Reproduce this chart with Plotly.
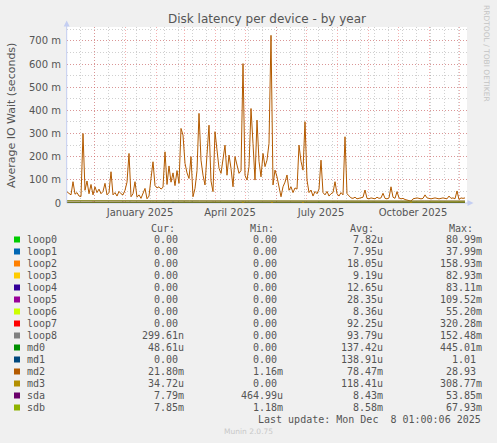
import pandas as pd
import plotly.graph_objects as go

# --- data (values in milli-seconds) ---
md2_ms = [48, 40, 35, 92, 38, 45, 30, 28, 300, 55, 95, 40, 80, 35, 70, 45, 60, 40, 50, 85,
          35, 45, 135, 35, 45, 30, 50, 40, 35, 55, 90, 214, 27, 40, 92, 25, 35, 20, 40, 63,
          18, 30, 106, 178, 75, 65, 70, 60, 68, 221, 80, 160, 90, 130, 75, 140, 85, 322, 293, 171,
          130, 106, 200, 27, 63, 140, 387, 185, 120, 78, 210, 336, 95, 49, 308, 214, 150, 128, 180, 250,
          120, 207, 150, 70, 200, 160, 128, 140, 602, 120, 99, 157, 408, 257, 99, 358, 180, 113, 214, 157,
          185, 257, 724, 78, 142, 113, 60, 27, 70, 90, 121, 55, 70, 45, 65, 60, 250, 180, 142, 351,
          99, 45, 56, 30, 50, 40, 60, 185, 45, 35, 50, 30, 40, 45, 92, 40, 30, 45, 35, 286,
          40, 30, 22, 20, 25, 18, 20, 22, 25, 56, 20, 18, 22, 20, 18, 25, 20, 22, 42, 20,
          18, 22, 70, 25, 20, 49, 22, 18, 20, 15, 12, 10, 8, 18, 20, 22, 20, 18, 20, 35,
          22, 20, 18, 20, 22, 20, 18, 20, 22, 20, 18, 30, 20, 22, 18, 52, 15, 22, 20, 22]

sda_ms = [9.1, 8.8, 8.6, 9.0, 8.5, 8.7, 8.9, 8.4, 8.6, 8.8, 8.5, 8.3, 8.7, 8.6, 8.4, 8.9, 8.5, 8.2, 8.6, 8.4,
          8.3, 8.1, 8.5, 8.2, 8.0, 8.3, 8.1, 7.9, 8.2, 8.0, 7.8, 8.1, 7.9, 8.0, 7.8, 8.1, 7.9, 7.8, 8.0, 7.8]
sdb_ms = [9.2, 9.0, 8.8, 9.1, 8.7, 8.9, 9.0, 8.6, 8.8, 8.9, 8.7, 8.5, 8.8, 8.7, 8.6, 9.0, 8.7, 8.4, 8.7, 8.6,
          8.5, 8.3, 8.6, 8.4, 8.2, 8.5, 8.3, 8.1, 8.4, 8.2, 8.0, 8.3, 8.1, 8.2, 8.0, 8.2, 8.0, 7.9, 8.1, 7.9]

# small blips of the near-zero devices
blip_device = ["loop7", "loop5", "loop1", "loop1", "md1", "loop0", "loop1", "loop5", "md3",
               "md3", "md3", "md0", "loop5", "loop1", "loop5", "md3", "loop1"]
blip_date = ["2024-11-30", "2024-12-30", "2025-01-06", "2025-01-29", "2025-02-18", "2025-03-01",
             "2025-03-09", "2025-03-30", "2025-04-29", "2025-05-28", "2025-06-28", "2025-07-14",
             "2025-07-29", "2025-09-06", "2025-09-29", "2025-10-14", "2025-11-12"]
blip_ms = [5, 5, 5, 5, 5, 5, 5, 5, 6, 5, 5, 5, 5, 5, 5, 6, 5]

devices = ["loop0", "loop1", "loop2", "loop3", "loop4", "loop5", "loop6", "loop7",
           "loop8", "md0", "md1", "md2", "md3", "sda", "sdb"]
colors = ["#00CC00", "#0066B3", "#FF8000", "#FFCC00", "#330099", "#990099", "#CCFF00", "#FF0000",
          "#808080", "#008F00", "#00487D", "#B35A00", "#B38F00", "#6B006B", "#8FB300"]
cur_vals = ["0.00", "0.00", "0.00", "0.00", "0.00", "0.00", "0.00", "0.00",
            "299.61n", "48.61u", "0.00", "21.80m", "34.72u", "7.79m", "7.85m"]
min_vals = ["0.00", "0.00", "0.00", "0.00", "0.00", "0.00", "0.00", "0.00",
            "0.00", "0.00", "0.00", "1.16m", "0.00", "464.99u", "1.18m"]
avg_vals = ["7.82u", "7.95u", "18.05u", "9.19u", "12.65u", "28.35u", "8.36u", "92.25u",
            "93.79u", "137.42u", "138.91u", "78.47m", "118.41u", "8.43m", "8.58m"]
max_vals = ["80.99m", "37.99m", "158.93m", "82.93m", "83.11m", "109.52m", "55.20m", "320.28m",
            "152.48m", "445.01m", "1.01", "28.93", "308.77m", "53.85m", "67.93m"]

y_tick_vals = [0, 100, 200, 300, 400, 500, 600, 700]
y_tick_text = ["0", "100 m", "200 m", "300 m", "400 m", "500 m", "600 m", "700 m"]
label_dates = ["2025-01-16", "2025-04-16", "2025-07-16", "2025-10-16"]
label_text = ["January 2025", "April 2025", "July 2025", "October 2025"]

START, END = "2024-11-04", "2025-12-07"
X_RANGE = ["2024-11-04", "2025-12-09"]

# pixel frame of the plot area
W, H = 497, 443
PL, PR, PT, PB = 67, 467, 27, 203


def px(x):
    return (x - PL) / (PR - PL)


def py(y):
    return (PB - y) / (PB - PT)


md2_dates = pd.date_range(START, END, periods=len(md2_ms))
sd_dates = pd.date_range(START, END, periods=len(sda_ms))

fig = go.Figure()
for dev, col in zip(devices, colors):
    if dev == "md2":
        xs, ys = md2_dates, md2_ms
    elif dev == "sda":
        xs, ys = sd_dates, sda_ms
    elif dev == "sdb":
        xs, ys = sd_dates, sdb_ms
    else:
        xs, ys = [pd.Timestamp(START)], [0]
        for d, dv, v in zip(blip_date, blip_device, blip_ms):
            if dv == dev:
                t = pd.Timestamp(d)
                xs += [t - pd.Timedelta(days=1), t, t + pd.Timedelta(days=1)]
                ys += [0, v, 0]
        xs.append(pd.Timestamp(END))
        ys.append(0)
    fig.add_trace(go.Scatter(x=xs, y=ys, mode="lines", name=dev,
                             line=dict(color=col, width=1), hoverinfo="skip"))

# carrier for the month labels axis
fig.add_trace(go.Scatter(x=[label_dates[0]], y=[None], xaxis="x2", mode="lines",
                         showlegend=False, hoverinfo="skip"))

red_grid = "rgba(230,80,80,0.45)"
grey_grid = "rgba(150,150,150,0.45)"
tick_font = dict(family="DejaVu Sans", size=10, color="#555555")

fig.update_layout(
    width=W, height=H,
    margin=dict(l=PL, r=W - PR, t=PT, b=H - PB),
    paper_bgcolor="#F0F0F0", plot_bgcolor="#FFFFFF",
    showlegend=False,
    title=dict(text="Disk latency per device - by year", x=0.5, xref="paper",
               y=1 - 19 / H, yanchor="middle", xanchor="center",
               font=dict(family="DejaVu Sans", size=12, color="#555555")),
    xaxis=dict(type="date", range=X_RANGE, showticklabels=False, ticks="",
               tickmode="array", tickvals=list(pd.date_range("2024-12-01", "2025-12-01", freq="MS")),
               showgrid=True, gridcolor=red_grid, griddash="1px,2px", gridwidth=1,
               minor=dict(tickmode="array",
                          tickvals=list(pd.date_range("2024-11-17", "2025-12-08", freq="14D")),
                          showgrid=True, gridcolor=grey_grid, griddash="1px,2px", gridwidth=1),
               showline=False, zeroline=False, layer="below traces"),
    xaxis2=dict(type="date", range=X_RANGE, overlaying="x", side="bottom",
                tickmode="array", tickvals=label_dates, ticktext=label_text,
                showgrid=False, showline=False, zeroline=False, ticks="",
                tickfont=tick_font, ticklabelstandoff=2),
    yaxis=dict(range=[0, 760], tickmode="array", tickvals=y_tick_vals, ticktext=y_tick_text,
               showgrid=True, gridcolor=red_grid, griddash="1px,2px", gridwidth=1,
               minor=dict(dtick=50, showgrid=True, gridcolor=grey_grid, griddash="1px,2px",
                          gridwidth=1),
               tickfont=tick_font, ticks="", ticklabelstandoff=5,
               showline=False, zeroline=False, layer="below traces"),
)

axis_col = "#C4CEF2"
shapes = [
    dict(type="line", xref="paper", yref="paper", x0=px(66.7), x1=px(66.7), y0=py(203), y1=py(24),
         line=dict(color=axis_col, width=1)),
    dict(type="line", xref="paper", yref="paper", x0=px(66.7), x1=px(469), y0=py(203), y1=py(203),
         line=dict(color=axis_col, width=1), layer="below"),
    dict(type="path", xref="paper", yref="paper", fillcolor=axis_col, line=dict(width=0),
         path=f"M {px(63.7)} {py(26.5)} L {px(69.7)} {py(26.5)} L {px(66.7)} {py(20.5)} Z"),
    dict(type="path", xref="paper", yref="paper", fillcolor=axis_col, line=dict(width=0),
         path=f"M {px(467.5)} {py(200)} L {px(467.5)} {py(206)} L {px(473.5)} {py(203)} Z"),
]

mono = dict(family="DejaVu Sans Mono", size=10, color="#555555")
ann = [
    dict(text="Average IO Wait (seconds)", x=px(11), y=py(115), textangle=-90,
         font=dict(family="DejaVu Sans", size=11, color="#555555")),
    dict(text="RRDTOOL / TOBI OETIKER", x=px(487), y=py(53), textangle=90,
         font=dict(family="DejaVu Sans", size=7.5, color="#C4C4C4")),
    dict(text="Munin 2.0.75", x=px(248), y=py(432),
         font=dict(family="DejaVu Sans", size=7.5, color="#C8C8C8")),
    dict(text="Last update: Mon Dec\u00a0\u00a08 01:00:06 2025", x=px(483), y=py(419.5),
         xanchor="right", font=mono),
]
for head, hx in zip(["Cur:", "Min:", "Avg:", "Max:"], [149, 248.3, 347.7, 446.7]):
    ann.append(dict(text=head, x=px(hx), y=py(228), xanchor="left", font=mono))


def cell(s):
    return s if s[-1].isalpha() else s + "\u00a0"


for k, dev in enumerate(devices):
    yc = 239.5 + 12 * k
    shapes.append(dict(type="rect", xref="paper", yref="paper", x0=px(14), x1=px(20),
                       y0=py(yc - 3), y1=py(yc + 3), fillcolor=colors[k], line=dict(width=0)))
    ann.append(dict(text=dev, x=px(25), y=py(yc), xanchor="left", font=mono))
    for val, rx in zip([cur_vals[k], min_vals[k], avg_vals[k], max_vals[k]],
                       [186, 284.5, 384.5, 484]):
        ann.append(dict(text=cell(val), x=px(rx), y=py(yc), xanchor="right", font=mono))

for a in ann:
    a.update(xref="paper", yref="paper", showarrow=False, yanchor=a.get("yanchor", "middle"))
    a.setdefault("xanchor", "center")

fig.update_layout(shapes=shapes, annotations=ann)
# page body has a default margin; drop it so the figure sits at the window corner
fig.write_html("out.html", config={"displayModeBar": False},
               post_script="document.body.style.margin='0';")
